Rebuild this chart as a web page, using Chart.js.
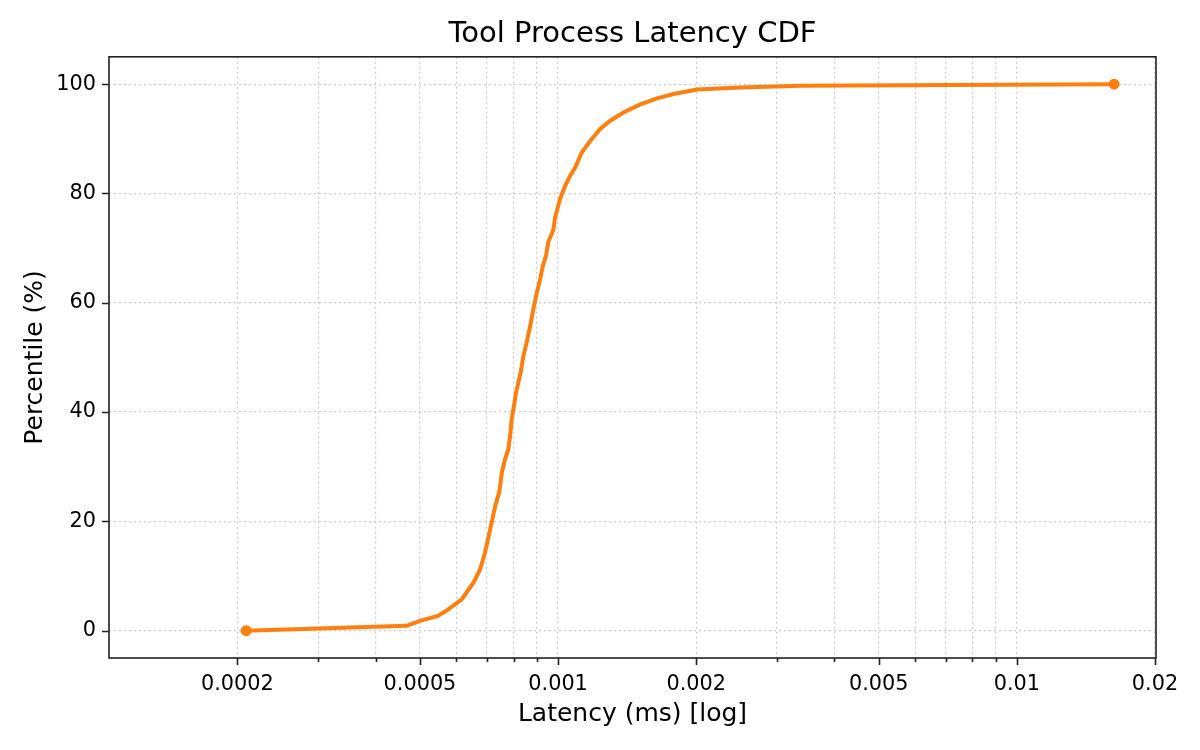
<!DOCTYPE html>
<html>
<head>
<meta charset="utf-8">
<script src="https://cdn.jsdelivr.net/npm/chart.js@4.4.1/dist/chart.umd.min.js"></script>
<style>
  body { margin: 0; background: #fff; }
  #wrap { width: 1200px; height: 750px; }
</style>
</head>
<body>
<div id="wrap"><canvas id="cdfChart"></canvas></div>
<script>
// latency samples (ms) and the percentile reached at each one
const latencyMs = [
    0.000209, 0.000468, 0.000500, 0.000547, 0.000567, 0.000616, 0.000653, 0.000676,
    0.000693, 0.000711, 0.000729, 0.000745, 0.000754, 0.000766, 0.000779, 0.000786,
    0.000792, 0.000799, 0.000810, 0.000829, 0.000840, 0.000854, 0.000869, 0.000883,
    0.000899, 0.000914, 0.000926, 0.000941, 0.000952, 0.000977, 0.000985, 0.00101,
    0.001036, 0.001062, 0.001089, 0.001126, 0.001175, 0.001235, 0.001299, 0.001388,
    0.00151, 0.001643, 0.001785, 0.002008, 0.002497, 0.003377, 0.00718, 0.01629
];
const percentile = [
    0.0, 0.9, 1.8, 2.7, 3.5, 5.7, 8.7, 11.2,
    14.3, 18.5, 22.7, 25.5, 28.9, 31.3, 33.2, 35.6,
    38.6, 40.5, 43.6, 47.3, 50.2, 52.7, 55.7, 58.8,
    61.9, 64.3, 66.7, 68.6, 71.1, 73.4, 75.6, 79.0,
    81.4, 83.2, 84.7, 87.5, 89.6, 91.8, 93.3, 94.8,
    96.3, 97.4, 98.2, 99.0, 99.4, 99.7, 99.85, 100
];

const xTicks = [
    0.0002, 0.0003, 0.0004, 0.0005, 0.0006, 0.0007, 0.0008, 0.0009,
    0.001, 0.002, 0.003, 0.004, 0.005, 0.006, 0.007, 0.008, 0.009,
    0.01, 0.02
];
const xTickLabels = ['0.0002', '', '', '0.0005', '', '', '', '',
    '0.001', '0.002', '', '', '0.005', '', '', '', '',
    '0.01', '0.02'];
const yTicks = [0, 20, 40, 60, 80, 100];

const FONT = "'DejaVu Sans', sans-serif";
const ORANGE = '#ff7f0e';

// matplotlib-style frame and outward tick marks
const framePlugin = {
    id: 'frame',
    afterDraw(chart) {
        const ctx = chart.ctx;
        const a = chart.chartArea;
        const xs = chart.scales.x;
        const ys = chart.scales.y;
        ctx.save();
        ctx.strokeStyle = '#222';
        ctx.lineWidth = 1.6;
        ctx.setLineDash([]);
        ctx.beginPath();
        xs.ticks.forEach((t, i) => {
            const px = Math.round(xs.getPixelForValue(t.value)) + 0.5;
            const len = xTickLabels[i] ? 7 : 4;
            ctx.moveTo(px, a.bottom);
            ctx.lineTo(px, a.bottom + len);
        });
        ys.ticks.forEach(t => {
            const py = Math.round(ys.getPixelForValue(t.value)) + 0.5;
            ctx.moveTo(a.left, py);
            ctx.lineTo(a.left - 7, py);
        });
        ctx.stroke();
        ctx.strokeRect(a.left, a.top, a.right - a.left, a.bottom - a.top);
        ctx.restore();
    }
};

new Chart(document.getElementById('cdfChart'), {
    type: 'scatter',
    data: {
        datasets: [{
            label: 'CDF',
            data: latencyMs.map((v, i) => ({ x: v, y: percentile[i] })),
            showLine: true,
            borderColor: ORANGE,
            backgroundColor: ORANGE,
            borderWidth: 4,
            tension: 0,
            pointRadius: ctx => (ctx.dataIndex === 0 || ctx.dataIndex === latencyMs.length - 1) ? 5.5 : 0,
            pointHoverRadius: 0,
            pointBorderWidth: 0
        }]
    },
    options: {
        responsive: true,
        maintainAspectRatio: false,
        animation: false,
        layout: { padding: { left: 0, right: 44, top: 0, bottom: 0 } },
        plugins: {
            legend: { display: false },
            tooltip: { enabled: false },
            title: {
                display: true,
                text: 'Tool Process Latency CDF',
                fullSize: false,
                color: '#000',
                font: { family: FONT, size: 29, weight: 'normal' },
                padding: { top: 17, bottom: 5 }
            }
        },
        scales: {
            x: {
                type: 'logarithmic',
                min: 0.000105,
                max: 0.0201,
                afterBuildTicks: scale => {
                    scale.ticks = xTicks.map(v => ({ value: v }));
                },
                afterFit: scale => { scale.height = 92; },
                ticks: {
                    autoSkip: false,
                    maxRotation: 0,
                    color: '#000',
                    padding: 14,
                    font: { family: FONT, size: 20.8 },
                    callback: (value, index) => xTickLabels[index]
                },
                grid: { color: '#cccccc', lineWidth: 1.2, drawTicks: false },
                border: { display: false, dash: [2, 3] },
                title: {
                    display: true,
                    text: 'Latency (ms) [log]',
                    color: '#000',
                    font: { family: FONT, size: 25 },
                    padding: { top: 0, bottom: 21 }
                }
            },
            y: {
                min: -5,
                max: 105,
                afterBuildTicks: scale => {
                    scale.ticks = yTicks.map(v => ({ value: v }));
                },
                afterFit: scale => { scale.width = 109; },
                ticks: {
                    color: '#000',
                    padding: 13,
                    font: { family: FONT, size: 20.8 },
                    callback: value => String(value)
                },
                grid: { color: '#cccccc', lineWidth: 1.2, drawTicks: false },
                border: { display: false, dash: [2, 3] },
                title: {
                    display: true,
                    text: 'Percentile (%)',
                    color: '#000',
                    font: { family: FONT, size: 25 },
                    padding: { top: 20, bottom: 0 }
                }
            }
        }
    },
    plugins: [framePlugin]
});
</script>
</body>
</html>
